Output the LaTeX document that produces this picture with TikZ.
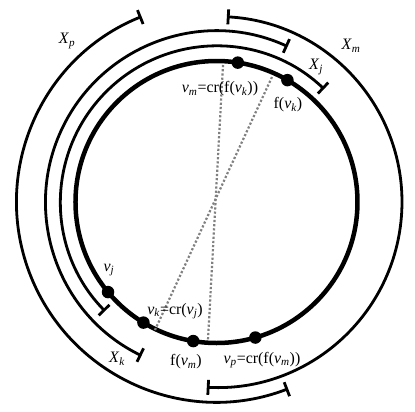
\documentclass[tikz,border=0pt]{standalone}
\usepackage{fontspec}
\setmainfont{Liberation Serif}
\usetikzlibrary{arrows.meta}
\newcommand{\vsub}[1]{\textit{v}\textsubscript{\textit{#1}}}
\newcommand{\Xsub}[1]{\textit{X}\textsubscript{\textit{#1}}}

\begin{document}
\begin{tikzpicture}[x=1bp, y=1bp,
    font=\fontsize{16}{19}\selectfont,
    dot/.style={circle, fill=black, inner sep=0pt, minimum size=12.5bp},
    rangearc/.style={line width=2.8bp, {Bar[width=15bp]}-{Bar[width=15bp]}},
    chord/.style={dotted, line width=2.2bp, gray}]
    \useasboundingbox (-216.5,-210) rectangle (198.5,202);

    \draw[line width=4.5bp] (0,0) circle[radius=141bp];

    % the four ranges round the circle
    \draw[rangearc] (112:200bp) arc[start angle=112, end angle=291, radius=200bp];
    \draw[rangearc] (86.8:185.5bp) arc[start angle=86.8, end angle=-93, radius=185.5bp];
    \draw[rangearc] (65.4:171bp) arc[start angle=65.4, end angle=244, radius=171bp];
    \draw[rangearc] (46.4:156bp) arc[start angle=46.4, end angle=224.4, radius=156bp];

    \node (Xp) at (-149.5,161) {\Xsub{p}};
    \node (Xm) at (134.5,156) {\Xsub{m}};
    \node (Xj) at (99.5,135) {\Xsub{j}};
    \node (Xk) at (-99.5,-157) {\Xsub{k}};

    % chords
    \coordinate (vmend) at (6.5,137);
    \coordinate (fvmend) at (-8.5,-138);
    \coordinate (fvkend) at (55.5,125);
    \coordinate (vkend) at (-61.5,-128);
    \draw[chord] (vmend) -- (fvmend);
    \draw[chord] (fvkend) -- (vkend);

    % vertices on the circle
    \node[dot] (vm) at (81.3:141bp) {};
    \node[dot] (fvk) at (59.8:141bp) {};
    \node[dot] (vj) at (219.7:141bp) {};
    \node[dot] (vk) at (238.8:141bp) {};
    \node[dot] (fvm) at (260.5:141bp) {};
    \node[dot] (vp) at (286:141bp) {};

    \node (vmlabel) at (3.5,113) {\vsub{m}=cr(f(\vsub{k}))};
    \node (fvklabel) at (71.5,97) {f(\vsub{k})};
    \node (vjlabel) at (-107.5,-68) {\vsub{j}};
    \node (vklabel) at (-41.5,-109) {\vsub{k}=cr(\vsub{j})};
    \node (fvmlabel) at (-30.5,-160) {f(\vsub{m})};
    \node (vplabel) at (45.5,-158) {\vsub{p}=cr(f(\vsub{m}))};
\end{tikzpicture}
\end{document}
